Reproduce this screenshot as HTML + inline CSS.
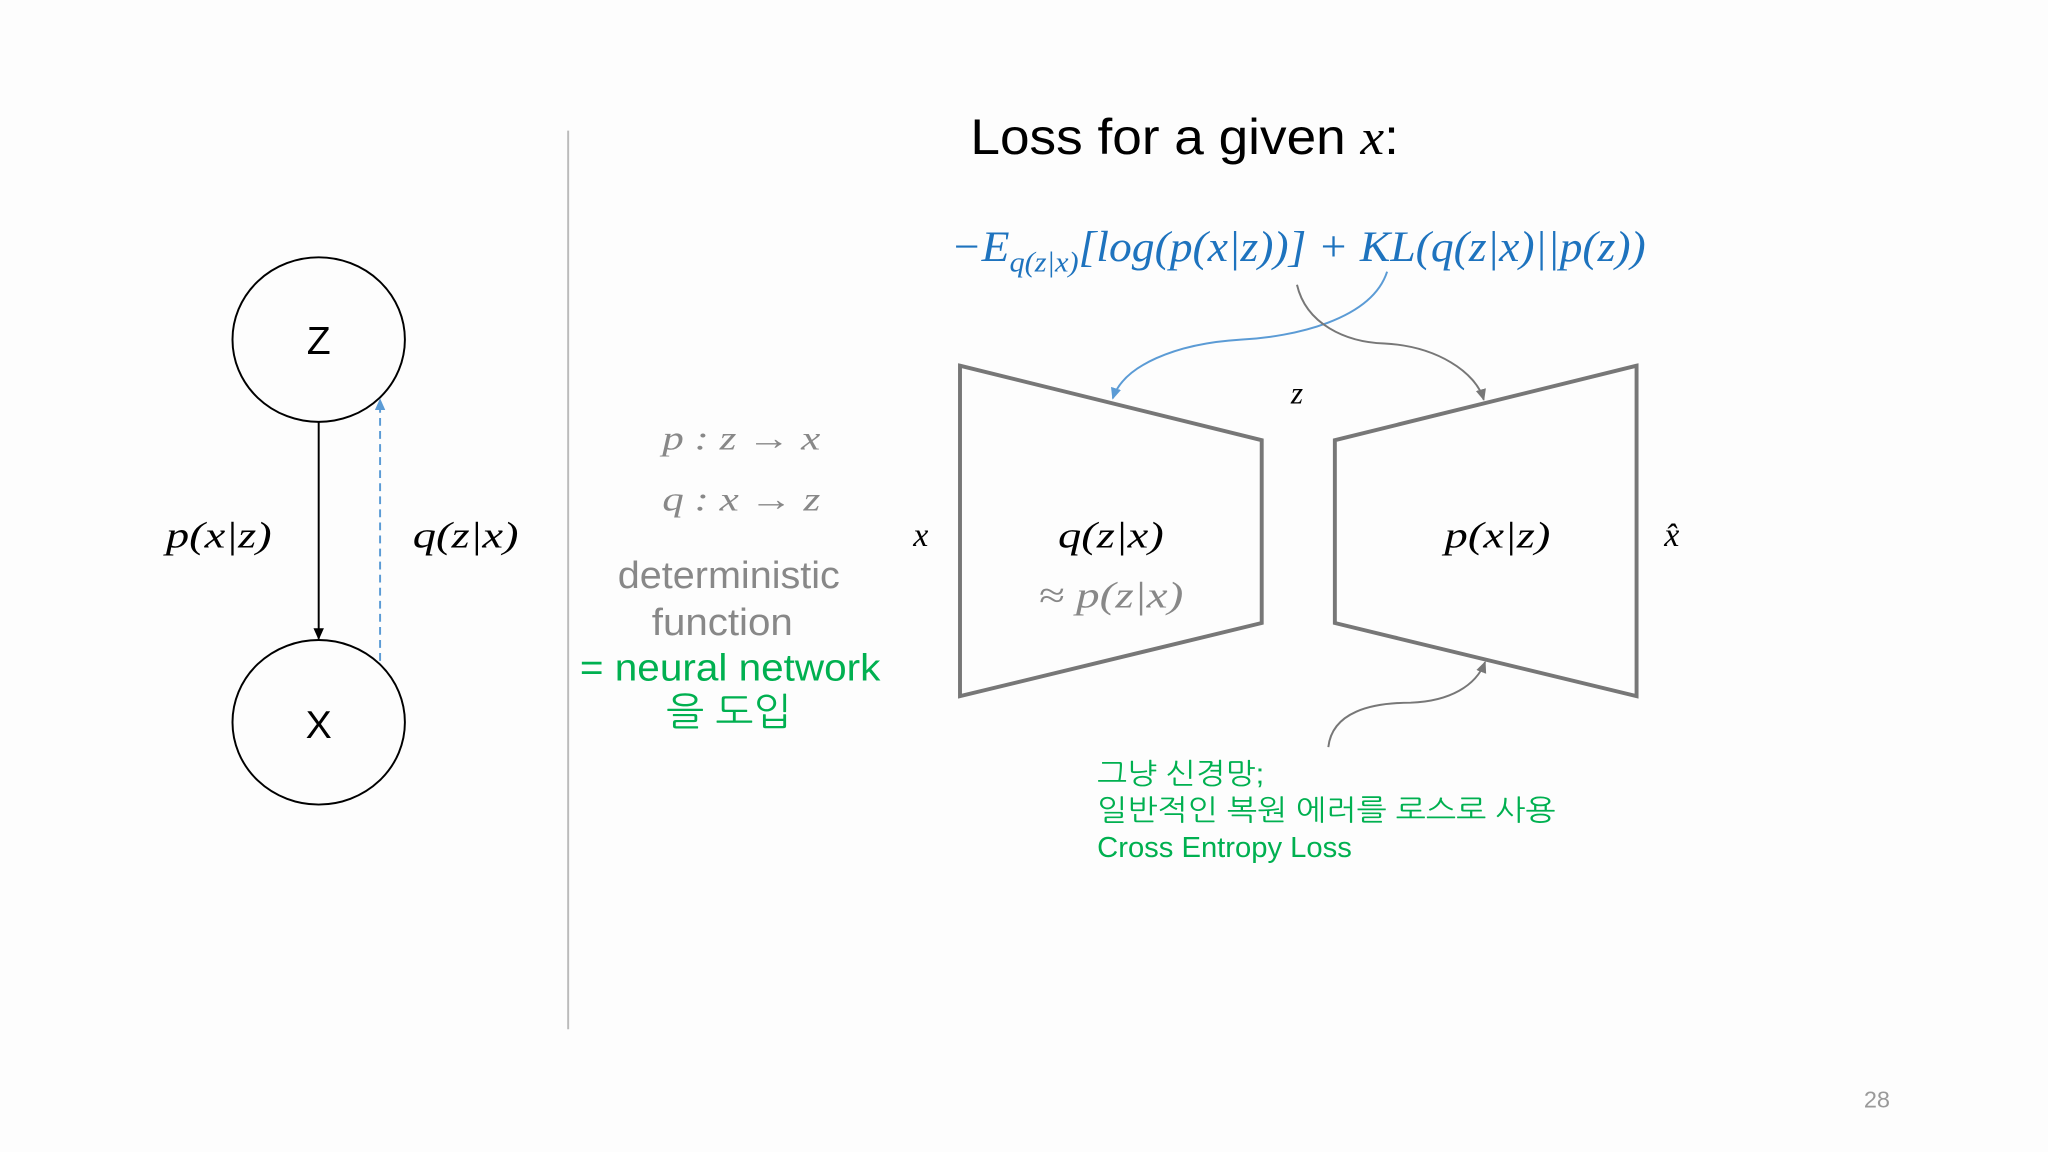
<!DOCTYPE html>
<html><head><meta charset="utf-8"><style>
html,body{margin:0;padding:0;background:#fdfdfd;}
svg{display:block;}
.s{font-family:"Liberation Sans","NanumGothic","Noto Sans CJK KR",sans-serif;}
.m{font-family:"Liberation Serif","DejaVu Serif",serif;font-style:italic;}
</style></head><body>
<svg width="2048" height="1152" viewBox="0 0 1568 882" xmlns="http://www.w3.org/2000/svg">
<defs>
<marker id="ab" markerWidth="10" markerHeight="10" refX="8" refY="5" orient="auto" markerUnits="userSpaceOnUse"><path d="M0,1 L9,5 L0,9 z" fill="#000"/></marker>
<marker id="abl" markerWidth="10" markerHeight="10" refX="8" refY="5" orient="auto" markerUnits="userSpaceOnUse"><path d="M0,1 L9,5 L0,9 z" fill="#5b9bd5"/></marker>
<marker id="ag" markerWidth="10" markerHeight="10" refX="8" refY="5" orient="auto" markerUnits="userSpaceOnUse"><path d="M0,1 L9,5 L0,9 z" fill="#777"/></marker>
</defs>
<rect width="1568" height="882" fill="#fdfdfd"/>
<ellipse cx="244" cy="260" rx="66" ry="63" fill="none" stroke="#000" stroke-width="1.5"/>
<ellipse cx="244" cy="553" rx="66" ry="63" fill="none" stroke="#000" stroke-width="1.5"/>
<text x="244" y="271" class="s" font-size="30" text-anchor="middle">Z</text>
<text x="244" y="565" class="s" font-size="30" text-anchor="middle">X</text>
<line x1="244" y1="323" x2="244" y2="489" stroke="#000" stroke-width="1.5" marker-end="url(#ab)"/>
<line x1="291" y1="506" x2="291" y2="306" stroke="#5b9bd5" stroke-width="1.5" stroke-dasharray="6,4" marker-end="url(#abl)"/>
<text x="127" y="419" class="m" font-size="28" textLength="81" lengthAdjust="spacingAndGlyphs">p(x|z)</text>
<text x="316" y="419" class="m" font-size="28" textLength="81" lengthAdjust="spacingAndGlyphs">q(z|x)</text>
<line x1="435" y1="100" x2="435" y2="788" stroke="#bbb" stroke-width="1.5"/>
<text x="743" y="118" class="s" font-size="38" textLength="328" lengthAdjust="spacingAndGlyphs">Loss for a given <tspan class="m">x</tspan>:</text>
<text x="728" y="200" class="m" font-size="33" fill="#1e73be" textLength="532" lengthAdjust="spacingAndGlyphs">−E<tspan font-size="22" dy="8">q(z|x)</tspan><tspan dy="-8">[log(p(x|z))] + KL(q(z|x)||p(z))</tspan></text>
<polygon points="735,280 966,337 966,477 735,533" fill="none" stroke="#777" stroke-width="3"/>
<polygon points="1253,280 1022,337 1022,477 1253,533" fill="none" stroke="#777" stroke-width="3"/>
<path d="M1062,208 C1050,245 990,258 950,260 C900,263 860,280 852,305" fill="none" stroke="#5b9bd5" stroke-width="1.5" marker-end="url(#abl)"/>
<path d="M993,218 C1000,248 1030,262 1060,263 C1100,265 1130,285 1136,306" fill="none" stroke="#777" stroke-width="1.5" marker-end="url(#ag)"/>
<path d="M1017,572 C1020,545 1050,538 1080,538 C1110,537 1130,525 1137,507" fill="none" stroke="#777" stroke-width="1.5" marker-end="url(#ag)"/>
<text x="993" y="309" class="m" font-size="24" text-anchor="middle">z</text>
<text x="705" y="418" class="m" font-size="26" text-anchor="middle">x</text>
<text x="1280" y="418" class="m" font-size="26" text-anchor="middle">x̂</text>
<text x="810" y="419" class="m" font-size="28" textLength="81" lengthAdjust="spacingAndGlyphs">q(z|x)</text>
<text x="795" y="465" class="m" font-size="28" fill="#888" textLength="111" lengthAdjust="spacingAndGlyphs">≈ p(z|x)</text>
<text x="1106" y="419" class="m" font-size="28" textLength="81" lengthAdjust="spacingAndGlyphs">p(x|z)</text>
<text x="507" y="344" class="m" font-size="26" fill="#888" textLength="121" lengthAdjust="spacingAndGlyphs">p : z → x</text>
<text x="507" y="391" class="m" font-size="26" fill="#888" textLength="121" lengthAdjust="spacingAndGlyphs">q : x → z</text>
<text x="473" y="450" class="s" font-size="29" fill="#888" textLength="170" lengthAdjust="spacingAndGlyphs">deterministic</text>
<text x="499" y="486" class="s" font-size="29" fill="#888" textLength="108" lengthAdjust="spacingAndGlyphs">function</text>
<text x="444" y="521" class="s" font-size="29" fill="#00b050" textLength="230" lengthAdjust="spacingAndGlyphs">= neural network</text>
<text x="510" y="555" class="s" font-size="29" fill="#00b050" textLength="96" lengthAdjust="spacingAndGlyphs">을 도입</text>
<text x="840" y="600" class="s" font-size="22" fill="#00b050" textLength="128" lengthAdjust="spacingAndGlyphs">그냥 신경망;</text>
<text x="840" y="628" class="s" font-size="22" fill="#00b050" textLength="351" lengthAdjust="spacingAndGlyphs">일반적인 복원 에러를 로스로 사용</text>
<text x="840" y="656" class="s" font-size="22" fill="#00b050" textLength="195" lengthAdjust="spacingAndGlyphs">Cross Entropy Loss</text>
<text x="1437" y="848" class="s" font-size="18" text-anchor="middle" fill="#999">28</text>
</svg>
</body></html>
